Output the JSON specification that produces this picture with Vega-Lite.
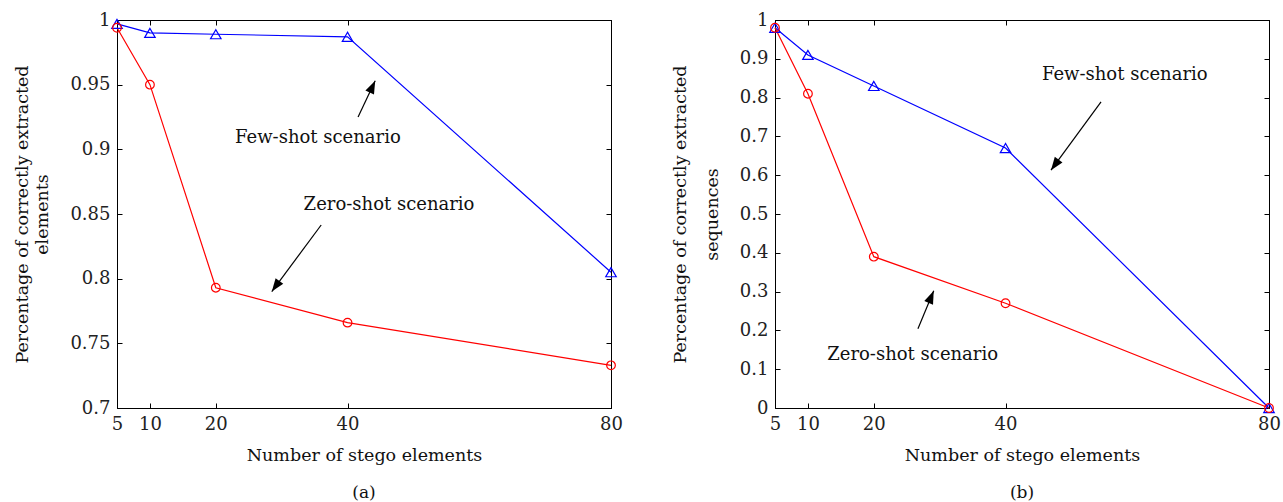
{
  "$schema": "https://vega.github.io/schema/vega-lite/v6.json",
  "padding": {"left": 12, "top": 10, "right": 5, "bottom": 0},
  "spacing": 47,
  "config": {
    "font": "DejaVu Serif",
    "view": {"stroke": "#000000", "strokeWidth": 1},
    "axis": {
      "grid": false,
      "domainColor": "#000000",
      "tickColor": "#000000",
      "labelColor": "#222222",
      "titleColor": "#111111",
      "labelFont": "DejaVu Serif",
      "titleFont": "DejaVu Serif",
      "labelFontSize": 18,
      "titleFontSize": 17.5,
      "titleFontWeight": "normal",
      "tickSize": -5,
      "labelPadding": 12,
      "labelFlush": false,
      "labelOverlap": false
    },
    "title": {"font": "DejaVu Serif", "fontSize": 17, "fontWeight": "normal", "color": "#111111"}
  },
  "datasets": {
    "series": [
      {"panel": "a", "scenario": "Few-shot", "n": 5, "value": 0.997},
      {"panel": "a", "scenario": "Few-shot", "n": 10, "value": 0.990},
      {"panel": "a", "scenario": "Few-shot", "n": 20, "value": 0.989},
      {"panel": "a", "scenario": "Few-shot", "n": 40, "value": 0.987},
      {"panel": "a", "scenario": "Few-shot", "n": 80, "value": 0.805},
      {"panel": "a", "scenario": "Zero-shot", "n": 5, "value": 0.994},
      {"panel": "a", "scenario": "Zero-shot", "n": 10, "value": 0.950},
      {"panel": "a", "scenario": "Zero-shot", "n": 20, "value": 0.793},
      {"panel": "a", "scenario": "Zero-shot", "n": 40, "value": 0.766},
      {"panel": "a", "scenario": "Zero-shot", "n": 80, "value": 0.733},
      {"panel": "b", "scenario": "Few-shot", "n": 5, "value": 0.98},
      {"panel": "b", "scenario": "Few-shot", "n": 10, "value": 0.91},
      {"panel": "b", "scenario": "Few-shot", "n": 20, "value": 0.83},
      {"panel": "b", "scenario": "Few-shot", "n": 40, "value": 0.67},
      {"panel": "b", "scenario": "Few-shot", "n": 80, "value": 0.0},
      {"panel": "b", "scenario": "Zero-shot", "n": 5, "value": 0.98},
      {"panel": "b", "scenario": "Zero-shot", "n": 10, "value": 0.81},
      {"panel": "b", "scenario": "Zero-shot", "n": 20, "value": 0.39},
      {"panel": "b", "scenario": "Zero-shot", "n": 40, "value": 0.27},
      {"panel": "b", "scenario": "Zero-shot", "n": 80, "value": 0.0}
    ],
    "notes": [
      {"panel": "a", "label": "Few-shot scenario", "x": 35.5, "y": 0.909},
      {"panel": "a", "label": "Zero-shot scenario", "x": 46.3, "y": 0.857},
      {"panel": "b", "label": "Few-shot scenario", "x": 58.1, "y": 0.858},
      {"panel": "b", "label": "Zero-shot scenario", "x": 25.9, "y": 0.137}
    ],
    "arrows": [
      {"panel": "a", "dir": "up", "x": 41.6, "y": 0.925, "x2": 44.2, "y2": 0.953},
      {"panel": "a", "dir": "down", "x": 36.0, "y": 0.8415, "x2": 28.5, "y2": 0.790},
      {"panel": "b", "dir": "down", "x": 54.5, "y": 0.789, "x2": 46.9, "y2": 0.613},
      {"panel": "b", "dir": "up", "x": 26.7, "y": 0.204, "x2": 29.1, "y2": 0.302}
    ]
  },
  "hconcat": [
    {
      "width": 494,
      "height": 388,
      "title": {"text": "(a)", "orient": "bottom", "offset": 21},
      "layer": [
        {
          "data": {"name": "series"},
          "transform": [{"filter": "datum.panel === 'a'"}],
          "mark": {"type": "line", "strokeWidth": 1.2},
          "encoding": {
            "x": {"field": "n", "type": "quantitative", "scale": {"domain": [5, 80], "nice": false, "zero": false},
                  "axis": {"values": [5, 10, 20, 40, 80], "title": "Number of stego elements", "titlePadding": 13}},
            "y": {"field": "value", "type": "quantitative", "scale": {"domain": [0.7, 1], "nice": false, "zero": false},
                  "axis": {"values": [0.7, 0.75, 0.8, 0.85, 0.9, 0.95, 1], "format": "~g", "title": "elements", "titlePadding": 18}},
            "color": {"field": "scenario", "type": "nominal", "scale": {"domain": ["Few-shot", "Zero-shot"], "range": ["#0000ff", "#ff0000"]}, "legend": null}
          }
        },
        {
          "data": {"name": "series"},
          "transform": [{"filter": "datum.panel === 'a'"}],
          "mark": {"type": "point", "filled": false, "strokeWidth": 1.2, "opacity": 1},
          "encoding": {
            "x": {"field": "n", "type": "quantitative", "axis": null},
            "y": {"field": "value", "type": "quantitative", "axis": null},
            "color": {"field": "scenario", "type": "nominal", "legend": null},
            "shape": {"field": "scenario", "type": "nominal", "scale": {"domain": ["Few-shot", "Zero-shot"], "range": ["triangle-up", "circle"]}, "legend": null},
            "size": {"field": "scenario", "type": "nominal", "scale": {"domain": ["Few-shot", "Zero-shot"], "range": [110, 75]}, "legend": null}
          }
        },
        {
          "data": {"name": "arrows"},
          "transform": [{"filter": "datum.panel === 'a'"}],
          "mark": {"type": "rule", "color": "#000000", "strokeWidth": 1.2},
          "encoding": {
            "x": {"field": "x", "type": "quantitative", "axis": null},
            "y": {"field": "y", "type": "quantitative", "axis": null},
            "x2": {"field": "x2"},
            "y2": {"field": "y2"}
          }
        },
        {
          "data": {"name": "arrows"},
          "transform": [{"filter": "datum.panel === 'a' && datum.dir === 'up'"}],
          "mark": {"type": "point", "shape": "M0,0L-0.8,2.2L0.8,2.2Z", "filled": true, "color": "#000000", "opacity": 1, "size": 140, "angle": 25},
          "encoding": {
            "x": {"field": "x2", "type": "quantitative", "axis": null},
            "y": {"field": "y2", "type": "quantitative", "axis": null}
          }
        },
        {
          "data": {"name": "arrows"},
          "transform": [{"filter": "datum.panel === 'a' && datum.dir === 'down'"}],
          "mark": {"type": "point", "shape": "M0,0L-0.8,2.2L0.8,2.2Z", "filled": true, "color": "#000000", "opacity": 1, "size": 140, "angle": 216},
          "encoding": {
            "x": {"field": "x2", "type": "quantitative", "axis": null},
            "y": {"field": "y2", "type": "quantitative", "axis": null}
          }
        },
        {
          "data": {"name": "notes"},
          "transform": [{"filter": "datum.panel === 'a'"}],
          "mark": {"type": "text", "fontSize": 18, "font": "DejaVu Serif", "color": "#111111", "align": "center", "baseline": "middle"},
          "encoding": {
            "x": {"field": "x", "type": "quantitative", "axis": null},
            "y": {"field": "y", "type": "quantitative", "axis": null},
            "text": {"field": "label"}
          }
        },
        {
          "data": {"name": "series"},
          "transform": [{"filter": "datum.panel === 'a'"}],
          "mark": {"type": "point", "opacity": 0},
          "encoding": {
            "x": {"field": "n", "type": "quantitative", "axis": {"orient": "top", "values": [5, 10, 20, 40, 80], "labels": false, "title": null}},
            "y": {"field": "value", "type": "quantitative", "axis": {"orient": "right", "values": [0.7, 0.75, 0.8, 0.85, 0.9, 0.95, 1], "labels": false, "title": null}}
          }
        },
        {
          "data": {"name": "series"},
          "transform": [{"filter": "datum.panel === 'a'"}],
          "mark": {"type": "point", "opacity": 0},
          "encoding": {
            "x": {"field": "n", "type": "quantitative", "axis": null},
            "y": {"field": "value", "type": "quantitative", "axis": {"orient": "left", "labels": false, "ticks": false, "domain": false, "title": "Percentage of correctly extracted", "titlePadding": 86}}
          }
        }
      ],
      "resolve": {"axis": {"x": "independent", "y": "independent"}}
    },
    {
      "width": 494,
      "height": 388,
      "title": {"text": "(b)", "orient": "bottom", "offset": 21},
      "layer": [
        {
          "data": {"name": "series"},
          "transform": [{"filter": "datum.panel === 'b'"}],
          "mark": {"type": "line", "strokeWidth": 1.2},
          "encoding": {
            "x": {"field": "n", "type": "quantitative", "scale": {"domain": [5, 80], "nice": false, "zero": false},
                  "axis": {"values": [5, 10, 20, 40, 80], "title": "Number of stego elements", "titlePadding": 13}},
            "y": {"field": "value", "type": "quantitative", "scale": {"domain": [0, 1], "nice": false},
                  "axis": {"values": [0, 0.1, 0.2, 0.3, 0.4, 0.5, 0.6, 0.7, 0.8, 0.9, 1], "format": "~g", "title": "sequences", "titlePadding": 18}},
            "color": {"field": "scenario", "type": "nominal", "scale": {"domain": ["Few-shot", "Zero-shot"], "range": ["#0000ff", "#ff0000"]}, "legend": null}
          }
        },
        {
          "data": {"name": "series"},
          "transform": [{"filter": "datum.panel === 'b'"}],
          "mark": {"type": "point", "filled": false, "strokeWidth": 1.2, "opacity": 1},
          "encoding": {
            "x": {"field": "n", "type": "quantitative", "axis": null},
            "y": {"field": "value", "type": "quantitative", "axis": null},
            "color": {"field": "scenario", "type": "nominal", "legend": null},
            "shape": {"field": "scenario", "type": "nominal", "scale": {"domain": ["Few-shot", "Zero-shot"], "range": ["triangle-up", "circle"]}, "legend": null},
            "size": {"field": "scenario", "type": "nominal", "scale": {"domain": ["Few-shot", "Zero-shot"], "range": [110, 75]}, "legend": null}
          }
        },
        {
          "data": {"name": "arrows"},
          "transform": [{"filter": "datum.panel === 'b'"}],
          "mark": {"type": "rule", "color": "#000000", "strokeWidth": 1.2},
          "encoding": {
            "x": {"field": "x", "type": "quantitative", "axis": null},
            "y": {"field": "y", "type": "quantitative", "axis": null},
            "x2": {"field": "x2"},
            "y2": {"field": "y2"}
          }
        },
        {
          "data": {"name": "arrows"},
          "transform": [{"filter": "datum.panel === 'b' && datum.dir === 'up'"}],
          "mark": {"type": "point", "shape": "M0,0L-0.8,2.2L0.8,2.2Z", "filled": true, "color": "#000000", "opacity": 1, "size": 140, "angle": 23},
          "encoding": {
            "x": {"field": "x2", "type": "quantitative", "axis": null},
            "y": {"field": "y2", "type": "quantitative", "axis": null}
          }
        },
        {
          "data": {"name": "arrows"},
          "transform": [{"filter": "datum.panel === 'b' && datum.dir === 'down'"}],
          "mark": {"type": "point", "shape": "M0,0L-0.8,2.2L0.8,2.2Z", "filled": true, "color": "#000000", "opacity": 1, "size": 140, "angle": 216},
          "encoding": {
            "x": {"field": "x2", "type": "quantitative", "axis": null},
            "y": {"field": "y2", "type": "quantitative", "axis": null}
          }
        },
        {
          "data": {"name": "notes"},
          "transform": [{"filter": "datum.panel === 'b'"}],
          "mark": {"type": "text", "fontSize": 18, "font": "DejaVu Serif", "color": "#111111", "align": "center", "baseline": "middle"},
          "encoding": {
            "x": {"field": "x", "type": "quantitative", "axis": null},
            "y": {"field": "y", "type": "quantitative", "axis": null},
            "text": {"field": "label"}
          }
        },
        {
          "data": {"name": "series"},
          "transform": [{"filter": "datum.panel === 'b'"}],
          "mark": {"type": "point", "opacity": 0},
          "encoding": {
            "x": {"field": "n", "type": "quantitative", "axis": {"orient": "top", "values": [5, 10, 20, 40, 80], "labels": false, "title": null}},
            "y": {"field": "value", "type": "quantitative", "axis": {"orient": "right", "values": [0, 0.1, 0.2, 0.3, 0.4, 0.5, 0.6, 0.7, 0.8, 0.9, 1], "labels": false, "title": null}}
          }
        },
        {
          "data": {"name": "series"},
          "transform": [{"filter": "datum.panel === 'b'"}],
          "mark": {"type": "point", "opacity": 0},
          "encoding": {
            "x": {"field": "n", "type": "quantitative", "axis": null},
            "y": {"field": "value", "type": "quantitative", "axis": {"orient": "left", "labels": false, "ticks": false, "domain": false, "title": "Percentage of correctly extracted", "titlePadding": 86}}
          }
        }
      ],
      "resolve": {"axis": {"x": "independent", "y": "independent"}}
    }
  ]
}
